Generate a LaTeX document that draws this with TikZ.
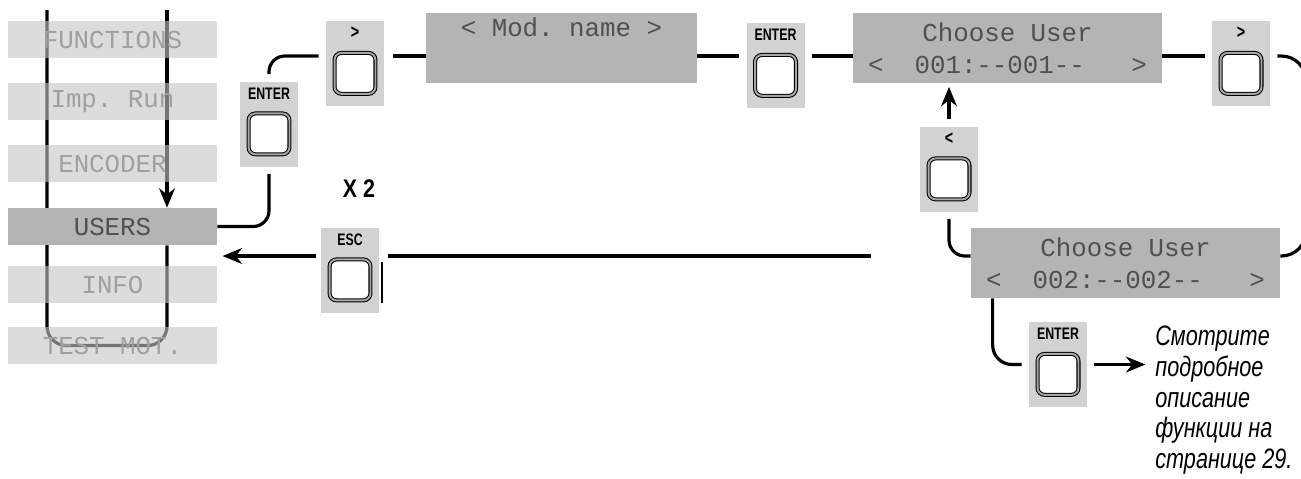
\documentclass[tikz,border=0pt]{standalone}
\usepackage{fontspec}
\setmainfont{Liberation Sans}
\setmonofont{Liberation Mono}
\newfontfamily\condfont{Liberation Sans}[FakeStretch=0.84]
\newfontfamily\keyfont{Liberation Sans}[FakeStretch=0.74]
\newfontfamily\notefont{Liberation Sans}[FakeStretch=0.77]
\usetikzlibrary{arrows.meta, positioning, backgrounds}
\definecolor{lcdgray}{RGB}{180,180,180}
\definecolor{bargray}{RGB}{196,196,196}
\definecolor{keygray}{RGB}{210,210,210}
\definecolor{dimtext}{RGB}{160,160,160}
\definecolor{lcdtext}{RGB}{80,80,80}
\newcommand{\lcdfont}{\ttfamily\fontsize{14.7}{18.2}\selectfont}
\newcommand{\keybtn}[3]{%
  \node[keybox] (#1) at (#2) {};
  \node[keylabel] (#1-lbl) at ([yshift=-7pt]#1.north) {#3};
  \node[keycap] (#1-cap) at ([yshift=-30pt]#1.north) {};
}

\begin{document}
\begin{tikzpicture}[
    x=0.02cm, y=-0.02cm,
    conn/.style={line width=1.8pt},
    arrow/.style={conn, -{Stealth[length=11pt,width=9pt,inset=3.5pt]}},
    menubar/.style={rectangle, minimum width=4.18cm, minimum height=0.74cm, inner sep=0pt, fill=bargray, fill opacity=0.6, text opacity=1, text=dimtext, font=\lcdfont},
    menusel/.style={menubar, fill=lcdgray, fill opacity=1, text=lcdtext},
    lcd/.style={rectangle, inner sep=0pt, fill=lcdgray, align=center, text=lcdtext, font=\lcdfont},
    keybox/.style={rectangle, inner sep=0pt, fill=keygray, minimum width=1.16cm, minimum height=1.7cm},
    keylabel/.style={inner sep=0pt, font=\keyfont\bfseries\fontsize{9.5}{10}\selectfont},
    keycap/.style={rectangle, rounded corners=4pt, draw=black, line width=0.6pt, double=black!35, double distance=1.1pt, fill=white, minimum size=23.3pt, inner sep=0pt}
]
    \useasboundingbox (0,0) rectangle (1301,478);
    \clip (0,0) rectangle (1301,478);

    % menu list
    \node[menubar] (fn) at (112.5,39.5) {FUNCTIONS};
    \node[menubar] (imp) at (112.5,101.5) {Imp.\ Run};
    \node[menubar] (enc) at (112.5,163.5) {ENCODER};
    \node[menusel] (users) at (112.5,226.5) {USERS};
    \node[menubar] (info) at (112.5,284.5) {INFO};
    \node[menubar] (test) at (112.5,345.5) {TEST MOT.};

    % displays
    \node[lcd, minimum width=5.42cm, minimum height=1.4cm] (mod) at (561.5,48) {<\ Mod.\ name\ >\\\strut};
    \node[lcd, minimum width=6.18cm, minimum height=1.4cm] (cu1) at (1007.5,48) {Choose\ User\\<\ \ 001:--001--\ \ \ >};
    \node[lcd, minimum width=6.18cm, minimum height=1.4cm] (cu2) at (1125.5,263) {Choose\ User\\<\ \ 002:--002--\ \ \ >};

    % keys
    \keybtn{kenter1}{269,124}{ENTER}
    \keybtn{kright1}{355,63.5}{\fontsize{11}{12}\selectfont >}
    \keybtn{kenter2}{775.5,65.5}{ENTER}
    \keybtn{kright2}{1241,63.5}{\fontsize{11}{12}\selectfont >}
    \keybtn{kleft}{949,169}{\fontsize{11}{12}\selectfont <}
    \keybtn{kesc}{350,270}{ESC}
    \keybtn{kenter3}{1058,364.5}{ENTER}

    \node[font=\condfont\bfseries\fontsize{14.5}{15}\selectfont] (times) at (359,189) {X 2};
    \node[anchor=north west, align=left, inner sep=0pt, font=\notefont\itshape\fontsize{16}{17.4}\selectfont] (note) at (1155,326) {Смотрите\\подробное\\описание\\функции на\\странице 29.};

    \coordinate (row1) at (0,56);
    \coordinate (row2) at (0,256);
    \coordinate (loopL) at (47,10);
    \coordinate (loopR) at (167,10);
    \coordinate (rloop) at (1306,0);
    \coordinate (escin) at (871,256);

    % menu loop behind the bars
    \begin{scope}[on background layer]
        \draw[conn, rounded corners=11pt] (loopL) |- (loopR |- test.center) -- (loopR |- users.south);
        \draw[arrow] (loopR) -- (loopR |- users.north);
    \end{scope}

    \draw[conn, rounded corners=9pt] (users.east) -| ([yshift=-4pt]kenter1.south);
    \draw[conn, rounded corners=9pt] ([yshift=4pt]kenter1.north) |- ([xshift=-4pt]kright1.west |- row1);
    \draw[conn] ([xshift=5pt]kright1.east |- row1) -- (mod.west |- row1);
    \draw[conn] (mod.east |- row1) -- ([xshift=-4pt]kenter2.west |- row1);
    \draw[conn] ([xshift=4pt]kenter2.east |- row1) -- (cu1.west |- row1);
    \draw[conn] (cu1.east |- row1) -- ([xshift=-4pt]kright2.west |- row1);
    \draw[conn, rounded corners=14pt] ([xshift=4pt]kright2.east |- row1) -| (rloop |- row2) -- (cu2.east |- row2);
    \draw[arrow, shorten >=2pt] ([yshift=4pt]kleft.north) -- (cu1.south -| kleft.north);
    \draw[conn, rounded corners=9pt] ([yshift=-4pt]kleft.south) |- (cu2.west |- row2);
    \draw[conn] (escin) -- ([xshift=5pt]kesc.east |- row2);
    \draw[line width=1.2pt] ([xshift=1.5pt,yshift=4.5pt]kesc.east) -- ([xshift=1.5pt,yshift=-19pt]kesc.east);
    \draw[arrow] ([xshift=-2.5pt]kesc.west |- row2) -- ([xshift=3pt]users.east |- row2);
    \draw[conn, rounded corners=11pt] ([xshift=12.5pt]cu2.south west) |- ([xshift=-4pt]kenter3.west);
    \draw[arrow, shorten >=5.5pt] ([xshift=4pt]kenter3.east) -- (kenter3.east -| note.west);

\end{tikzpicture}
\end{document}
